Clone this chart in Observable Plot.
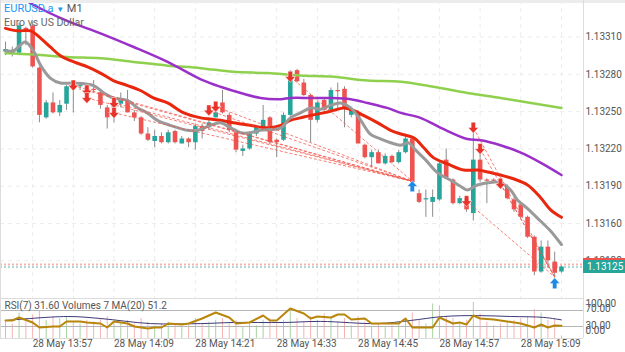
<!DOCTYPE html>
<html><head><meta charset="utf-8">
<script src="https://cdn.jsdelivr.net/npm/d3@7"></script>
<script src="https://cdn.jsdelivr.net/npm/@observablehq/plot@0.6"></script>
<style>
body{margin:0;background:#fff;font-family:Roboto,"Noto Sans",sans-serif;}
#wrap{position:relative;width:625px;height:352px;overflow:hidden;background:#fff;}
.abs{position:absolute;}
#title{left:4px;top:2px;font-size:11px;line-height:13px;color:#555;white-space:nowrap;}
#title .sym{color:#2196f3;}
#title .sub{font-size:10.5px;color:#666;}
.pbox{left:583px;width:42px;height:13px;color:#fff;font-size:10px;line-height:13px;padding-left:4px;box-sizing:border-box;}
</style></head><body><div id="wrap"></div>
<script>
// ---- data (minute bars, EURUSD.a M1, 28 May) ----
const startTime = "13:53";
const open = [1.13298,1.13299,1.13297,1.13317,1.13319,1.13285,1.13245,1.13257,1.13249,1.13256,
1.13271,1.13270,1.13269,1.13268,1.13265,1.13253,1.13253,1.13256,1.13259,1.13249,
1.13245,1.13232,1.13226,1.13230,1.13225,1.13234,1.13224,1.13228,1.13225,1.13238,
1.13237,1.13245,1.13257,1.13247,1.13233,1.13218,1.13220,1.13232,1.13237,1.13245,
1.13227,1.13227,1.13247,1.13283,1.13273,1.13263,1.13243,1.13259,1.13251,1.13267,
1.13268,1.13247,1.13249,1.13223,1.13213,1.13217,1.13208,1.13214,1.13209,1.13217,
1.13228,1.13184,1.13179,1.13177,1.13179,1.13211,1.13195,1.13176,1.13180,1.13168,
1.13211,1.13195,1.13195,1.13194,1.13189,1.13179,1.13175,1.13165,1.13149,1.13121,
1.13141,1.13129,1.13121];
const high = [1.13306,1.13302,1.13321,1.13318,1.13322,1.13286,1.13259,1.13265,1.13259,1.13271,
1.13274,1.13273,1.13270,1.13275,1.13267,1.13255,1.13259,1.13265,1.13267,1.13251,
1.13246,1.13237,1.13235,1.13233,1.13235,1.13235,1.13230,1.13229,1.13240,1.13240,
1.13245,1.13254,1.13267,1.13249,1.13235,1.13223,1.13234,1.13238,1.13255,1.13246,
1.13228,1.13249,1.13283,1.13284,1.13276,1.13264,1.13258,1.13261,1.13269,1.13273,
1.13270,1.13253,1.13251,1.13224,1.13219,1.13219,1.13216,1.13215,1.13219,1.13232,
1.13229,1.13187,1.13187,1.13187,1.13209,1.13220,1.13196,1.13182,1.13182,1.13241,
1.13223,1.13196,1.13196,1.13195,1.13191,1.13181,1.13176,1.13166,1.13150,1.13146,
1.13146,1.13137,1.13126];
const low = [1.13295,1.13294,1.13295,1.13303,1.13285,1.13241,1.13244,1.13248,1.13246,1.13251,
1.13249,1.13267,1.13262,1.13265,1.13252,1.13236,1.13241,1.13253,1.13249,1.13242,
1.13231,1.13226,1.13221,1.13224,1.13224,1.13224,1.13224,1.13221,1.13219,1.13228,
1.13235,1.13245,1.13248,1.13233,1.13217,1.13214,1.13219,1.13230,1.13235,1.13224,
1.13213,1.13226,1.13246,1.13273,1.13262,1.13225,1.13241,1.13249,1.13249,1.13251,
1.13237,1.13245,1.13224,1.13212,1.13205,1.13208,1.13207,1.13208,1.13208,1.13216,
1.13192,1.13176,1.13165,1.13165,1.13178,1.13196,1.13175,1.13175,1.13169,1.13162,
1.13193,1.13176,1.13193,1.13190,1.13179,1.13169,1.13164,1.13148,1.13118,1.13120,
1.13124,1.13116,1.13120];
const close = [1.13300,1.13297,1.13319,1.13315,1.13286,1.13247,1.13257,1.13249,1.13255,1.13270,
1.13269,1.13271,1.13265,1.13267,1.13255,1.13245,1.13255,1.13259,1.13249,1.13245,
1.13232,1.13227,1.13230,1.13225,1.13233,1.13225,1.13228,1.13225,1.13238,1.13234,
1.13241,1.13249,1.13249,1.13235,1.13219,1.13220,1.13232,1.13237,1.13243,1.13225,
1.13225,1.13247,1.13282,1.13274,1.13263,1.13243,1.13257,1.13251,1.13267,1.13266,
1.13253,1.13251,1.13224,1.13213,1.13217,1.13208,1.13214,1.13209,1.13217,1.13228,
1.13193,1.13177,1.13180,1.13181,1.13208,1.13197,1.13176,1.13180,1.13171,1.13211,
1.13195,1.13194,1.13194,1.13191,1.13180,1.13171,1.13165,1.13149,1.13121,1.13141,
1.13130,1.13120,1.13125];
const volume = [50,40,70,45,65,75,50,60,55,60, 45,40,50,45,55,60,45,40,50,40,
55,45,35,40,45,40,30,35,55,40, 45,50,55,40,50,30,45,35,50,55,
40,50,80,55,45,60,50,68,55,45, 55,35,60,45,30,40,30,35,40,50,
70,50,40,95,90,60,55,40,50,99, 68,45,35,40,45,50,55,60,80,70, 50,55,7];

// moving averages: [bar index, price]
const maGray = [[0,1.13299],[1.2,1.13299],[2.9,1.13306],[4.1,1.13299],[5.2,1.13287],[6.6,1.13277],[8.1,1.13273],[10,1.13273],[13,1.13271],[14.5,1.13265],[15.9,1.13261],[18,1.13259],[19.5,1.13253],[20.9,1.13249],[22.4,1.13243],[24.3,1.13239],[26.8,1.13235],[28.3,1.13235],[30.2,1.13239],[31.7,1.13241],[33.2,1.13237],[34.7,1.13233],[36.1,1.13233],[37.6,1.13235],[40.6,1.13237],[42,1.13245],[43.5,1.13249],[45,1.13253],[46.5,1.13252],[47.9,1.13255],[49.4,1.13257],[50.9,1.13253],[52.4,1.13243],[53.8,1.13232],[55.3,1.13228],[56.8,1.13225],[58.3,1.13223],[59.4,1.13225],[60.5,1.13219],[62,1.13211],[63.7,1.13201],[65.6,1.13195],[67.1,1.13190],[68.1,1.13187],[69.6,1.13191],[71.5,1.13193],[73,1.13193],[74.5,1.13187],[75.5,1.13179],[77,1.13172],[78.9,1.13162],[80.4,1.13154],[82,1.13143]];
const maRed = [[0,1.13317],[1.8,1.13315],[3.7,1.13315],[5.2,1.13309],[6.6,1.13302],[8.1,1.13295],[9.6,1.13291],[12.1,1.13286],[14,1.13281],[15.9,1.13275],[18,1.13271],[19.9,1.13267],[21.8,1.13261],[23.9,1.13257],[26.3,1.13249],[28.8,1.13245],[30.2,1.13244],[31.7,1.13243],[33.6,1.13241],[36.1,1.13239],[38.6,1.13237],[40.6,1.13239],[42,1.13243],[43.5,1.13245],[45,1.13247],[46.9,1.13249],[48.4,1.13251],[49.9,1.13253],[51.3,1.13251],[52.8,1.13247],[54.9,1.13241],[56.8,1.13235],[58.3,1.13232],[60.2,1.13229],[61.7,1.13221],[63.1,1.13213],[65.2,1.13208],[67.6,1.13203],[69.6,1.13203],[71.5,1.13201],[73,1.13199],[74.9,1.13196],[77,1.13191],[78.9,1.13181],[80.4,1.13171],[82,1.13165]];
const maPurple = [[0,1.13349],[2.9,1.13340],[4.1,1.13336],[9.1,1.13323],[14,1.13313],[18.9,1.13302],[23.9,1.13290],[28.8,1.13276],[31.7,1.13270],[34.7,1.13265],[37.6,1.13261],[40.6,1.13260],[42,1.13261],[45,1.13261],[47.9,1.13261],[50.9,1.13260],[53.4,1.13257],[56.3,1.13253],[58.3,1.13249],[61.2,1.13245],[64.2,1.13237],[68.1,1.13228],[70.1,1.13227],[73,1.13223],[76,1.13217],[78.9,1.13209],[82,1.13199]];
const maGreen = [[0,1.13297],[4.1,1.13296],[9.1,1.13294],[14,1.13293],[18.9,1.13290],[23.9,1.13287],[28.8,1.13285],[33.6,1.13282],[38.6,1.13281],[43.5,1.13279],[48.4,1.13278],[53.4,1.13275],[58.3,1.13274],[63.1,1.13270],[68.1,1.13265],[73,1.13261],[76.4,1.13258],[82,1.13253]];

// RSI(7) and volume MA(20): [bar index, value]
const rsi = [[0,45],[1,45],[2,52.5],[4,40],[5,27.5],[7,30],[8,30],[9,42.5],[11,42.5],[12,40],[14,37.5],[15,27.5],[16,42.5],[18,37.5],[19,30],[21,25],[22,27.5],[23,27.5],[24,37.5],[26,35],[27,37.5],[29,50],[31,65],[33,52.5],[34,37.5],[36,40],[38,57.5],[39,45],[40,45],[42,75],[44,62.5],[45,50],[46,55],[48,52.5],[49,60],[50,60],[51,47.5],[53,50],[54,37.5],[56,37.5],[58,37.5],[59,50],[60,27.5],[62,27.5],[63,27.5],[64,52.5],[66,37.5],[67,40],[68,35],[69,57.5],[70,50],[72,47.5],[74,42.5],[76,37.5],[78,27.5],[79,35],[80,27.5],[81,32.5],[82,31.6]];
const volMA = [[0,49.5],[9.1,60.5],[14,55],[21.4,41],[28.8,41],[33.6,44],[41,44],[46.5,47],[54.9,41],[59.7,49.5],[64.6,60.5],[69.6,63],[74.5,60.5],[79.4,58],[82,51.2]];

// trades: sell entries -> exits
const sellIdx   = [10,12,12,16,16,30,31,42,68,69,70,73];
const sellPrice = [1.13271,1.13267,1.13261,1.13257,1.13249,1.13251,1.13254,1.13278,1.13178,1.13237,1.13220,1.13192];
const exitIdx   = [60,60,60,60,60,60,60,60,81,81,81,81];
const exitPrice = [1.13194,1.13194,1.13194,1.13194,1.13194,1.13194,1.13194,1.13194,1.13117,1.13117,1.13117,1.13117];
const buyIdx = [60,81];
const buyPrice = [1.13190,1.13112];

const bid = 1.13125, ask = 1.13127;
const priceTicks = [1.13130,1.13160,1.13190,1.13220,1.13250,1.13280,1.13310];
const gridTimes = ["13:57","14:03","14:09","14:15","14:21","14:27","14:33","14:39","14:45","14:51","14:57","15:03","15:09","15:15"];
const labelTimes = ["13:57","14:09","14:21","14:33","14:45","14:57","15:09"];
const dateLabel = "28 May";
const rsiLevels = [100,70,30,0];

// ---- helpers ----
const toMin = t => { const [h,m] = t.split(":").map(Number); return h*60+m; };
const idxOf = t => toMin(t) - toMin(startTime);
const gridIdx = gridTimes.map(idxOf);
const labelIdx = labelTimes.map(idxOf);
const bars = open.map((o,i)=>({i,o,h:high[i],l:low[i],c:close[i],v:volume[i],up:close[i]>=o}));
const trades = sellIdx.map((d,k)=>({x1:d,y1:sellPrice[k],x2:exitIdx[k],y2:exitPrice[k]}));
const sells = sellIdx.map((d,k)=>({x:d,y:sellPrice[k]}));
const buys = buyIdx.map((d,k)=>({x:d,y:buyPrice[k]}));

const arrowDown = {draw(ctx,size){const s=Math.sqrt(size/Math.PI);
  ctx.moveTo(-s*0.4,-s);ctx.lineTo(s*0.4,-s);ctx.lineTo(s*0.4,-s*0.05);ctx.lineTo(s*0.95,-s*0.05);
  ctx.lineTo(0,s);ctx.lineTo(-s*0.95,-s*0.05);ctx.lineTo(-s*0.4,-s*0.05);ctx.closePath();}};
const arrowUp = {draw(ctx,size){const s=Math.sqrt(size/Math.PI);
  ctx.moveTo(-s*0.4,s);ctx.lineTo(s*0.4,s);ctx.lineTo(s*0.4,s*0.05);ctx.lineTo(s*0.95,s*0.05);
  ctx.lineTo(0,-s);ctx.lineTo(-s*0.95,s*0.05);ctx.lineTo(-s*0.4,s*0.05);ctx.closePath();}};

const GREEN="#26a69a", RED="#ef5350";
const xDomain = [-0.74, 85.25];
const font = "Roboto, 'Noto Sans', sans-serif";
const wrap = document.getElementById("wrap");

const main = Plot.plot({
  width:625, height:298, marginLeft:0, marginRight:42, marginTop:0, marginBottom:0,
  x:{domain:xDomain, axis:null},
  y:{domain:[1.130997,1.133394], axis:null},
  style:{position:"absolute",left:"0px",top:"0px",background:"transparent",fontFamily:font,fontSize:"10px",overflow:"visible"},
  marks:[
    Plot.ruleY(priceTicks,{stroke:"#ececec",strokeDasharray:"4,4"}),
    Plot.ruleX(gridIdx,{stroke:"#ececec",strokeDasharray:"4,4"}),
    Plot.ruleY([ask],{stroke:"#f7b3b0",strokeWidth:2,strokeDasharray:"2,2"}),
    Plot.ruleY([bid],{stroke:"#5fb8ae",strokeWidth:1,strokeDasharray:"2,2"}),
    Plot.ruleX(bars,{x:"i",y1:"l",y2:"h",stroke:"#8c8c8c",strokeWidth:1}),
    Plot.ruleX(bars,{x:"i",y1:"o",y2:"c",stroke:d=>d.up?GREEN:RED,strokeWidth:4.6}),
    Plot.line(maGreen,{x:"0",y:"1",stroke:"#8fd14f",strokeWidth:2.5,curve:"catmull-rom",clip:true}),
    Plot.line(maPurple,{x:"0",y:"1",stroke:"#9b30c8",strokeWidth:2.5,curve:"catmull-rom",clip:true}),
    Plot.line(maRed,{x:"0",y:"1",stroke:"#e8270e",strokeWidth:3,curve:"catmull-rom",clip:true}),
    Plot.line(maGray,{x:"0",y:"1",stroke:"#9a9a9a",strokeWidth:3,curve:"catmull-rom",clip:true}),
    Plot.link(trades,{x1:"x1",y1:"y1",x2:"x2",y2:"y2",stroke:"#f0544a",strokeOpacity:0.75,strokeWidth:1,strokeDasharray:"3,2"}),
    Plot.dot(sells,{x:"x",y:"y",symbol:arrowDown,r:5.5,fill:"#e8322a",stroke:"#fff",strokeWidth:0.5}),
    Plot.dot(buys,{x:"x",y:"y",symbol:arrowUp,r:5.5,fill:"#1e88e5",stroke:"#fff",strokeWidth:0.5}),
    Plot.axisY({anchor:"right",ticks:priceTicks,tickSize:0,tickPadding:2,tickFormat:d3.format(".5f"),color:"#555",fontSize:10,label:null})
  ]
});
wrap.append(main);

const vol = Plot.plot({
  width:625, height:54, marginLeft:0, marginRight:42, marginTop:0, marginBottom:14,
  x:{domain:xDomain, axis:null},
  y:{domain:[0,110], axis:null},
  style:{position:"absolute",left:"0px",top:"298px",background:"transparent",overflow:"visible"},
  marks:[
    Plot.ruleX(bars,{x:"i",y1:0,y2:"v",stroke:d=>d.up?"#a9d3a0":"#f6b3b3",strokeWidth:1}),
    Plot.line(volMA,{x:"0",y:"1",stroke:"#3d3a7a",strokeWidth:1,curve:"catmull-rom"})
  ]
});
wrap.append(vol);

const rsiPlot = Plot.plot({
  width:625, height:54, marginLeft:0, marginRight:42, marginTop:0, marginBottom:14,
  x:{domain:xDomain, axis:null},
  y:{domain:[0,100], axis:null},
  style:{position:"absolute",left:"0px",top:"298px",background:"transparent",fontFamily:font,fontSize:"10px",overflow:"visible"},
  marks:[
    Plot.ruleY([100,0],{stroke:"#dcdcdc"}),
    Plot.ruleY([70,30],{stroke:"#b5b5b5"}),
    Plot.line(rsi,{x:"0",y:"1",stroke:"#b8860b",strokeWidth:2}),
    Plot.text(["RSI(7) 31.60 Volumes 7 MA(20) 51.2"],{frameAnchor:"top-left",dx:4,dy:3,lineAnchor:"top",fill:"#555",fontSize:10}),
    Plot.text([rsiLevels[0]],{y:d=>d,text:d=>d3.format(".2f")(d),frameAnchor:"right",textAnchor:"start",dx:2,dy:5,fill:"#555",fontSize:10}),
    Plot.text([rsiLevels[1]],{y:d=>d,text:d=>d3.format(".2f")(d),frameAnchor:"right",textAnchor:"start",dx:2,dy:-2,fill:"#555",fontSize:10}),
    Plot.text([rsiLevels[2]],{y:d=>d,text:d=>d3.format(".2f")(d),frameAnchor:"right",textAnchor:"start",dx:2,dy:-1,fill:"#555",fontSize:10}),
    Plot.text([rsiLevels[3]],{y:d=>d,text:d=>d3.format(".2f")(d),frameAnchor:"right",textAnchor:"start",dx:2,dy:-8,fill:"#555",fontSize:10}),
    Plot.axisX({ticks:labelIdx,tickSize:0,tickPadding:1,textAnchor:"start",color:"#555",fontSize:10,label:null,
      tickFormat:d=>dateLabel+" "+labelTimes[labelIdx.indexOf(d)]})
  ]
});
wrap.append(rsiPlot);

// frame lines
const xs = main.scale("x"), ys = main.scale("y");
const right = xs.range[1];
function line(css){const d=document.createElement("div");d.className="abs";Object.assign(d.style,css);wrap.append(d);return d;}
line({left:"0px",top:"0px",width:"625px",height:"3px",background:"#ececec"});
line({left:"0px",top:"0px",width:"1px",height:"338px",background:"#dcdcdc"});
line({left:right+"px",top:"0px",width:"1px",height:"338px",background:"#dcdcdc"});

// price tags
const askBox = line({top:(ys.apply(ask)-6.5)+"px",background:"#ef5350"}); askBox.className="abs pbox";
const bidBox = line({top:(ys.apply(bid)-6.5)+"px",background:"#26a69a"}); bidBox.className="abs pbox";
bidBox.textContent = d3.format(".5f")(bid);

// title
const t = document.createElement("div"); t.id="title"; t.className="abs";
t.innerHTML = '<span class="sym">EURUSD.a</span> <span class="sym" style="font-size:8px">▼</span> M1<br><span class="sub">Euro vs US Dollar</span>';
wrap.append(t);
</script></body></html>
